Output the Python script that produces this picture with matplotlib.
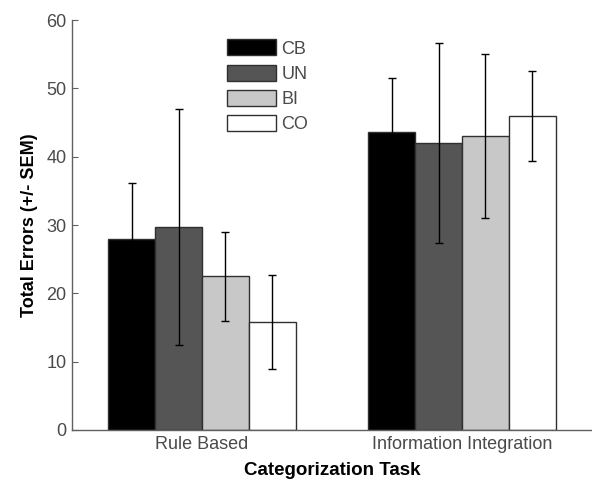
import matplotlib
matplotlib.use("Agg")
import matplotlib.pyplot as plt
import numpy as np

# values
tasks = ["Rule Based", "Information Integration"]
groups = ["CB", "UN", "BI", "CO"]
means = {
    "CB": [28.0, 43.6],
    "UN": [29.7, 42.0],
    "BI": [22.5, 43.0],
    "CO": [15.8, 46.0],
}
sems = {
    "CB": [8.2, 7.9],
    "UN": [17.3, 14.7],
    "BI": [6.5, 12.0],
    "CO": [6.9, 6.6],
}
colors = {"CB": "#000000", "UN": "#555555", "BI": "#c8c8c8", "CO": "#ffffff"}

plt.rcParams["font.family"] = ["Liberation Sans", "DejaVu Sans"]

fig = plt.figure(figsize=(5.92, 4.8), dpi=100)
ax = fig.add_axes([72 / 592, 50 / 480, 520 / 592, 410 / 480])

x = np.arange(1, len(tasks) + 1)
width = 0.18
for i, g in enumerate(groups):
    pos = x + (i - 1.5) * width
    ax.bar(pos, means[g], width, color=colors[g], edgecolor="#303030",
           linewidth=1.0, label=g, zorder=2)
    ax.errorbar(pos, means[g], yerr=sems[g], fmt="none", ecolor="#000000",
                elinewidth=1.0, capsize=3, capthick=1.0, zorder=3)

ax.set_xlim(0.5, 2.5)
ax.set_ylim(0, 60)
ax.set_yticks(range(0, 61, 10))
ax.set_xticks(x)
ax.set_xticklabels(tasks)

for s in ["top", "right"]:
    ax.spines[s].set_visible(False)
for s in ["left", "bottom"]:
    ax.spines[s].set_color("#606060")
    ax.spines[s].set_linewidth(1.0)

ax.tick_params(axis="y", direction="in", length=4, color="#606060",
               labelcolor="#4a4a4a", labelsize=13, pad=4)
ax.tick_params(axis="x", length=0, labelcolor="#4a4a4a", labelsize=13, pad=4)

ax.set_ylabel("Total Errors (+/- SEM)", fontsize=13, fontweight="bold", labelpad=6)
ax.set_xlabel("Categorization Task", fontsize=13.5, fontweight="bold", labelpad=7)

leg = ax.legend(loc="upper left", bbox_to_anchor=(0.298, 0.953), frameon=False,
                fontsize=13, handlelength=2.7, handleheight=1.0,
                labelspacing=0.39, handletextpad=0.3, borderpad=0,
                borderaxespad=0)
for t in leg.get_texts():
    t.set_color("#4a4a4a")

fig.savefig("out.png", dpi=100, facecolor="white")
